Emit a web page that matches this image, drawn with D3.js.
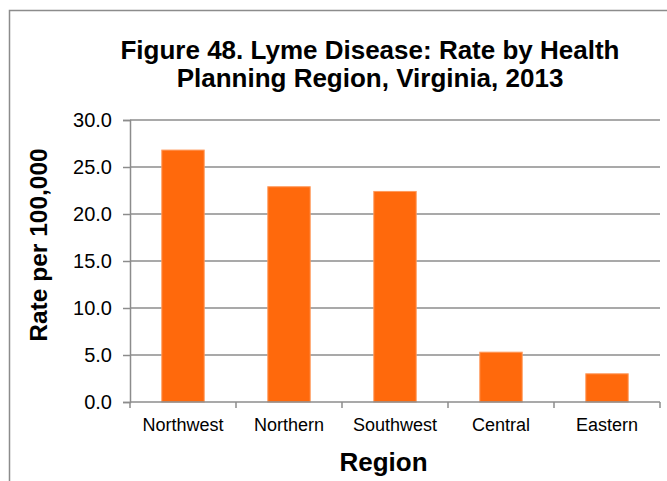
<!DOCTYPE html>
<html lang="en">
<head>
<meta charset="UTF-8">
<title>Lyme Disease rate by region</title>
<script src="https://d3js.org/d3.v7.min.js"></script>
<style>
  body { margin: 0; background: #fff; font-family: "Liberation Sans", Arial, sans-serif; }
  .tick text { font-size: 20px; fill: #000; }
</style>
</head>
<body>
<svg width="667" height="481"></svg>
<script>
const regions = ["Northwest", "Northern", "Southwest", "Central", "Eastern"];
const rates = [26.8, 22.9, 22.4, 5.3, 3.0];
const yTicks = [0, 5, 10, 15, 20, 25, 30];

const svg = d3.select("svg");
const margin = { top: 120, right: 7, bottom: 79, left: 130 };
const w = 667 - margin.left - margin.right,
      h = 481 - margin.top - margin.bottom;

// outer chart border
svg.append("rect")
    .attr("x", 9.5).attr("y", 10.5)
    .attr("width", 680).attr("height", 500)
    .attr("fill", "none").attr("stroke", "#8c8c8c").attr("stroke-width", 1.5);

const g = svg.append("g").attr("transform", `translate(${margin.left},${margin.top})`);

const x = d3.scaleBand().domain(regions).range([0, w]).paddingInner(0.6).paddingOuter(0.3);
const y = d3.scaleLinear().domain([0, 30]).range([h, 0]);

// gridlines
g.selectAll(".grid").data(yTicks.filter(d => d > 0)).enter().append("line")
    .attr("x1", 0).attr("x2", w)
    .attr("y1", d => y(d)).attr("y2", d => y(d))
    .attr("stroke", "#8c8c8c").attr("stroke-width", 1.5);

// bars
g.selectAll(".bar").data(rates).enter().append("rect")
    .attr("x", (d, i) => x(regions[i]))
    .attr("y", d => y(d))
    .attr("width", x.bandwidth())
    .attr("height", d => h - y(d))
    .attr("fill", "#ff690c")
    .attr("stroke", "#ff9a5c").attr("stroke-width", 1);

// y axis
const yAxis = g.append("g")
    .call(d3.axisLeft(y).tickValues(yTicks).tickFormat(d3.format(".1f")).tickSize(7).tickPadding(11));
yAxis.select(".domain").attr("stroke", "#8c8c8c").attr("stroke-width", 1.5);
yAxis.selectAll(".tick line").attr("stroke", "#8c8c8c").attr("stroke-width", 1.5);

// x axis: ticks at band edges
const xAxis = g.append("g").attr("transform", `translate(0,${h})`);
xAxis.append("line").attr("x1", 0).attr("x2", w)
    .attr("stroke", "#8c8c8c").attr("stroke-width", 1.5);
const edges = d3.range(regions.length + 1).map(i => i * w / regions.length);
xAxis.selectAll(".edge").data(edges).enter().append("line")
    .attr("x1", d => d).attr("x2", d => d).attr("y1", 0).attr("y2", 6)
    .attr("stroke", "#8c8c8c").attr("stroke-width", 1.5);
xAxis.selectAll(".lab").data(regions).enter().append("text")
    .attr("x", d => x(d) + x.bandwidth() / 2)
    .attr("y", 29)
    .attr("text-anchor", "middle")
    .attr("font-size", 18)
    .text(d => d);

// title
svg.append("text")
    .attr("text-anchor", "middle")
    .attr("font-size", 26).attr("font-weight", "bold")
    .selectAll("tspan")
    .data(["Figure 48. Lyme Disease: Rate by Health", "Planning Region, Virginia, 2013"])
    .enter().append("tspan")
    .attr("x", 370).attr("y", (d, i) => 59 + i * 28)
    .text(d => d);

// axis titles
svg.append("text")
    .attr("transform", "translate(47,245) rotate(-90)")
    .attr("text-anchor", "middle")
    .attr("font-size", 24.5).attr("font-weight", "bold")
    .text("Rate per 100,000");

svg.append("text")
    .attr("x", 383.5).attr("y", 471)
    .attr("text-anchor", "middle")
    .attr("font-size", 26).attr("font-weight", "bold")
    .text("Region");
</script>
</body>
</html>
